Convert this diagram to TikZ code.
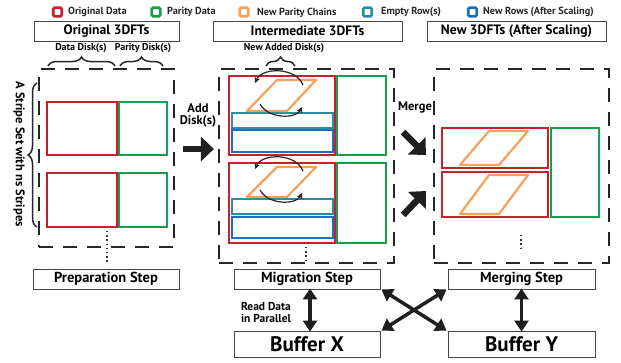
\documentclass[tikz,border=0pt]{standalone}
\usepackage{fontspec}
\setmainfont{PT Sans}
\usetikzlibrary{arrows.meta,decorations.pathreplacing,calc}
\definecolor{ored}{RGB}{196,33,45}
\definecolor{pgreen}{RGB}{23,158,74}
\definecolor{npor}{RGB}{246,160,90}
\definecolor{eteal}{RGB}{42,140,160}
\definecolor{nblue}{RGB}{28,111,192}
\definecolor{boxgray}{RGB}{70,70,70}
\begin{document}
\begin{tikzpicture}[x=1pt,y=-1pt,
  legsq/.style={draw=#1, line width=2.6pt, rounded corners=1.2pt, minimum size=8.5pt, inner sep=0pt},
  legtxt/.style={anchor=west, inner sep=0pt, font=\bfseries\fontsize{10.3}{11}\selectfont, text=black!85},
  titlebox/.style={draw=boxgray, line width=0.9pt, minimum height=20pt, inner sep=0pt, font=\bfseries\fontsize{13.6}{15}\selectfont},
  stepbox/.style={draw=boxgray, line width=0.9pt, minimum width=146pt, minimum height=20pt, inner sep=0pt, font=\bfseries\fontsize{14.5}{16}\selectfont},
  bufbox/.style={draw=boxgray, line width=0.9pt, minimum width=146pt, minimum height=26pt, inner sep=0pt, font=\bfseries\fontsize{21}{23}\selectfont},
  dashbox/.style={draw=black!85, line width=2.2pt, dash pattern=on 14pt off 10pt, inner sep=0pt},
  cell/.style={draw=#1, line width=2.6pt, inner sep=0pt},
  para/.style={draw=npor, line width=2.2pt, line join=round},
  small/.style={font=\bfseries\fontsize{10}{11}\selectfont, inner sep=0pt},
  mid/.style={font=\bfseries\fontsize{12.5}{13}\selectfont, inner sep=0pt},
  brc/.style={draw=black!85, line width=1.5pt, decorate, decoration={brace, amplitude=9pt}},
  dotsv/.style={draw=black!80, line width=1.4pt, dash pattern=on 1.4pt off 2.8pt},
  bigarrow/.style={draw=black!88, line width=6.5pt, -{Triangle[length=13pt,width=24pt]}},
  dblarrow/.style={draw=black!88, line width=3.5pt, {Triangle[length=11pt,width=14pt]}-{Triangle[length=11pt,width=14pt]}},
  swing/.style={draw=black!85, line width=1.2pt, -{Stealth[length=6pt,width=6pt]}}
]
\useasboundingbox (0,0) rectangle (621,362);

% ---------- legend ----------
\node[legsq=ored] (lr) at (57.5,12) {};
\node[legtxt] (lrt) at (68,12) {Original Data};
\node[legsq=pgreen] (lg) at (156,12) {};
\node[legtxt] (lgt) at (167,12) {Parity Data};
\node[legsq=npor] (lo) at (244,12) {};
\node[legtxt] (lot) at (257,12.5) {New Parity Chains};
\node[legsq=eteal] (lt) at (367.5,12) {};
\node[legtxt] (ltt) at (381,12) {Empty Row(s)};
\node[legsq=nblue] (lb) at (472.5,12) {};
\node[legtxt] (lbt) at (483,12) {New Rows (After Scaling)};

% ---------- titles ----------
\node[titlebox, minimum width=145pt] (t1) at (106.5,31) {Original 3DFTs};
\node[titlebox, minimum width=189pt] (t2) at (307.5,31) {Intermediate 3DFTs};
\node[titlebox, minimum width=179pt] (t3) at (516.5,31) {New 3DFTs (After Scaling)};

% ---------- dashed frames ----------
\node[dashbox, minimum width=135pt, minimum height=178pt] (d1) at (106.5,158) {};
\node[dashbox, minimum width=175pt, minimum height=194pt] (d2) at (306.5,166) {};
\node[dashbox, minimum width=175pt, minimum height=194pt] (d3) at (521.5,166) {};

% ---------- disk labels and braces ----------
\node[small] (ldd) at (81,48) {Data Disk(s)};
\node[small] (lpd) at (143,48) {Parity Disk(s)};
\node[small] (lnd) at (284,48) {New Added Disk(s)};
\draw[brc] (48,66) -- (115,66);
\draw[brc] (120,66) -- (163,66);
\draw[brc] (266,66) -- (295,66);
\draw[brc] (37,227) -- (37,83);
\node[mid, rotate=-90] (ls) at (19,154) {A Stripe Set with ns Stripes};

% ---------- original 3DFTs ----------
\node[cell=ored, minimum width=70pt, minimum height=53pt] (r1a) at (82,128.5) {};
\node[cell=pgreen, minimum width=48pt, minimum height=53pt] (g1a) at (143,128.5) {};
\node[cell=ored, minimum width=70pt, minimum height=54pt] (r1b) at (82,200) {};
\node[cell=pgreen, minimum width=48pt, minimum height=54pt] (g1b) at (143,200) {};
\draw[dotsv] (107,231) -- (107,264);

% ---------- intermediate 3DFTs ----------
\node[cell=ored, minimum width=106pt, minimum height=79pt] (r2a) at (282,115.5) {};
\node[cell=pgreen, minimum width=49pt, minimum height=79pt] (g2a) at (361.5,115.5) {};
\node[cell=eteal, minimum width=101pt, minimum height=15pt] (e2a) at (282.5,120.5) {};
\node[cell=nblue, minimum width=101pt, minimum height=22pt] (n2a) at (282.5,141) {};
\draw[para] (247,111) -- (287,111) -- (316,80) -- (277,80) -- cycle;
\draw[swing] (303,85) .. controls (296,67) and (262,67) .. (255,83);
\draw[swing] (260,104) .. controls (268,119) and (296,119) .. (302,107);

\node[cell=ored, minimum width=106pt, minimum height=80pt] (r2b) at (282,203) {};
\node[cell=pgreen, minimum width=49pt, minimum height=80pt] (g2b) at (361.5,203) {};
\node[cell=eteal, minimum width=101pt, minimum height=15pt] (e2b) at (282.5,206.5) {};
\node[cell=nblue, minimum width=101pt, minimum height=21pt] (n2b) at (282.5,227.5) {};
\draw[para] (247,197) -- (287,197) -- (316,167) -- (277,167) -- cycle;
\draw[swing] (303,171) .. controls (296,153) and (262,153) .. (255,169);
\draw[swing] (260,190) .. controls (268,205) and (296,205) .. (302,193);
\draw[dotsv] (306,247) -- (306,261);

% ---------- new 3DFTs ----------
\node[cell=ored, minimum width=106pt, minimum height=40pt] (r3a) at (495,148) {};
\node[cell=ored, minimum width=106pt, minimum height=45pt] (r3b) at (495,194.5) {};
\node[cell=pgreen, minimum width=48pt, minimum height=89pt] (g3) at (575,172.5) {};
\draw[para] (460,165) -- (499,165) -- (528,131) -- (489,131) -- cycle;
\draw[para] (460,214) -- (499,214) -- (528,175) -- (489,175) -- cycle;
\draw[dotsv] (521,235) -- (521,249);

% ---------- big arrows ----------
\node[mid, align=center] (ladd) at (198,115) {Add\\[-1pt]Disk(s)};
\draw[bigarrow] ($(d1.east)+(8,-9)$) -- ($(d2.west)+(-4,-17)$);
\node[mid] (lmerge) at (415,107) {Merge};
\draw[bigarrow] ($(d2.east)+(8,-34)$) -- ($(d3.west)+(-7,-11)$);
\draw[bigarrow] ($(d2.east)+(8,49)$) -- ($(d3.west)+(-7,25)$);

% ---------- steps and buffers ----------
\node[stepbox] (prep) at (106,279) {Preparation Step};
\node[stepbox] (mig) at (307,279) {Migration Step};
\node[stepbox, minimum width=147pt] (merg) at (521.5,279) {Merging Step};
\node[bufbox] (bx) at (307,344) {Buffer X};
\node[bufbox, minimum width=147pt] (by) at (521.5,344) {Buffer Y};

\draw[dblarrow] ([xshift=3pt,yshift=1pt]mig.south) -- ([xshift=3pt,yshift=-1pt]bx.north);
\draw[dblarrow] ([yshift=1pt]merg.south) -- ([yshift=-1pt]by.north);
\draw[dblarrow] ([shift={(1,0)}]mig.south east) -- ([shift={(-1,0)}]by.north west);
\draw[dblarrow] ([shift={(1,0)}]bx.north east) -- ([shift={(-1,0)}]merg.south west);
\node[small, align=left, font=\bfseries\fontsize{11.5}{12}\selectfont] (lread) at (266,312.5) {Read Data\\[-0.5pt]in Parallel};
\end{tikzpicture}
\end{document}
